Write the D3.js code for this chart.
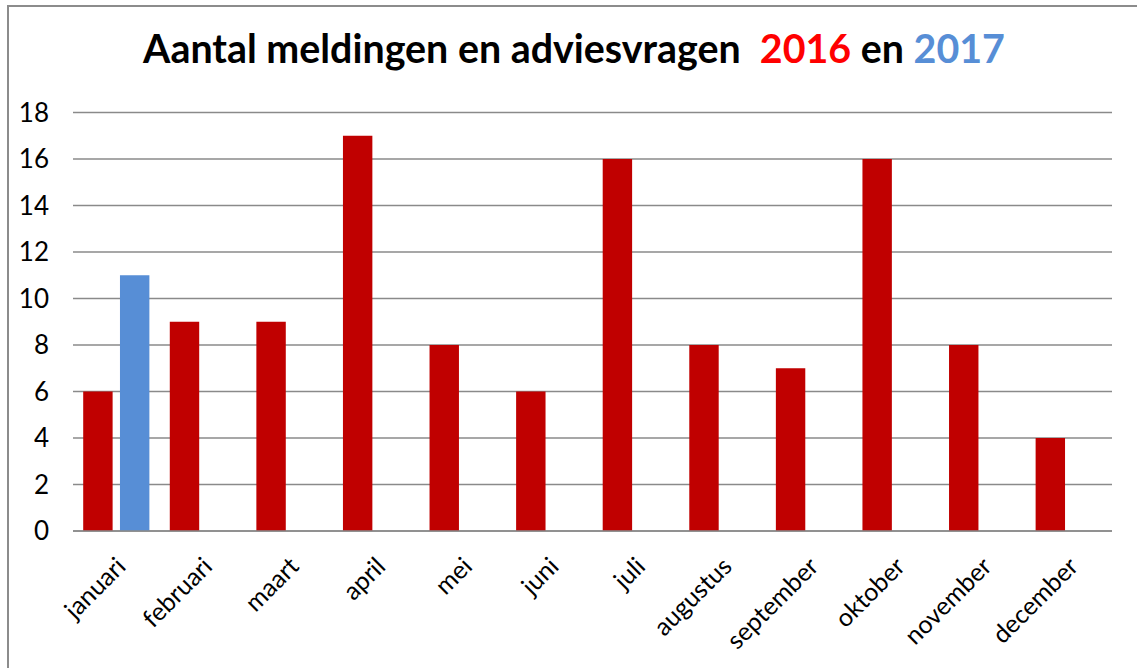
<!DOCTYPE html>
<html>
<head>
<meta charset="utf-8">
<script src="https://cdn.jsdelivr.net/npm/d3@7"></script>
<style>
  body { margin: 0; background: #fff; }
  svg { display: block; }
  text { font-family: Lato, "Open Sans", sans-serif; }
</style>
</head>
<body>
<div id="chart"></div>
<script>
// Data
const months = ["januari", "februari", "maart", "april", "mei", "juni",
    "juli", "augustus", "september", "oktober", "november", "december"];
const series = ["2016", "2017"];
const values2016 = [6, 9, 9, 17, 8, 6, 16, 8, 7, 16, 8, 4];
const values2017 = [11, null, null, null, null, null, null, null, null, null, null, null];
const yTicks = [0, 2, 4, 6, 8, 10, 12, 14, 16, 18];

const colors = { "2016": "#c00000", "2017": "#578ed6" };

// Dimensions
const W = 1137, H = 668;
const margin = { top: 112.5, right: 25, bottom: 137, left: 73 };
const width = W - margin.left - margin.right;
const height = H - margin.top - margin.bottom;

const svgRoot = d3.select("#chart")
    .append("svg")
    .attr("width", W)
    .attr("height", H);

// Outer border (only left and top visible in the picture)
svgRoot.append("rect")
    .attr("x", 8)
    .attr("y", 6)
    .attr("width", W + 20)
    .attr("height", H + 20)
    .attr("fill", "none")
    .attr("stroke", "#8c8c8c")
    .attr("stroke-width", 2);

const svg = svgRoot.append("g")
    .attr("transform", `translate(${margin.left},${margin.top})`);

// Scales
const xScale = d3.scaleBand()
    .domain(months)
    .range([0, width])
    .padding(0);

const xInner = d3.scaleBand()
    .domain(series)
    .range([10.2, xScale.bandwidth() - 10.2])
    .paddingInner(0.2);

const yScale = d3.scaleLinear()
    .domain([0, 18])
    .range([height, 0]);

// Gridlines
svg.append("g")
    .selectAll("line")
    .data(yTicks)
    .enter()
    .append("line")
    .attr("x1", 0)
    .attr("x2", width)
    .attr("y1", d => yScale(d))
    .attr("y2", d => yScale(d))
    .attr("stroke", "#8a8a8a")
    .attr("stroke-width", 1.6);

// Y tick labels
svg.append("g")
    .selectAll("text")
    .data(yTicks)
    .enter()
    .append("text")
    .attr("x", -24)
    .attr("y", d => yScale(d))
    .attr("dy", "0.36em")
    .attr("text-anchor", "end")
    .attr("font-size", 26)
    .attr("fill", "#000")
    .text(d => d);

// Bars
const rows = months.map((m, i) => ({ month: m, "2016": values2016[i], "2017": values2017[i] }));

const groups = svg.selectAll(".month")
    .data(rows)
    .enter()
    .append("g")
    .attr("class", "month")
    .attr("transform", d => `translate(${xScale(d.month)},0)`);

groups.selectAll("rect")
    .data(d => series.map(s => ({ key: s, value: d[s] })).filter(v => v.value != null))
    .enter()
    .append("rect")
    .attr("x", d => xInner(d.key))
    .attr("y", d => yScale(d.value))
    .attr("width", xInner.bandwidth())
    .attr("height", d => yScale(0) - yScale(d.value))
    .attr("fill", d => colors[d.key]);

// Redraw the zero line on top of bars
svg.append("line")
    .attr("x1", 0)
    .attr("x2", width)
    .attr("y1", yScale(0))
    .attr("y2", yScale(0))
    .attr("stroke", "#8a8a8a")
    .attr("stroke-width", 1.6);

// X labels, rotated
svg.append("g")
    .selectAll("text")
    .data(months)
    .enter()
    .append("text")
    .attr("transform", d => `translate(${xScale(d) + xScale.bandwidth() / 2 + 11},${height + 37}) rotate(-45)`)
    .attr("text-anchor", "end")
    .attr("font-size", 25)
    .attr("fill", "#000")
    .text(d => d);

// Title
const title = svgRoot.append("text")
    .attr("x", 574)
    .attr("y", 63)
    .attr("text-anchor", "middle")
    .attr("font-size", 33)
    .attr("font-weight", "bold")
    .attr("fill", "#000");

title.append("tspan").text("Aantal meldingen en adviesvragen\u00a0\u00a0");
title.append("tspan").attr("fill", "#ff0000").text("2016");
title.append("tspan").text(" en ");
title.append("tspan").attr("fill", "#578ed6").text("2017");

// Fit title width to the picture
const tw = title.node().getComputedTextLength();
title.attr("font-size", 33 * 862 / tw);
</script>
</body>
</html>
